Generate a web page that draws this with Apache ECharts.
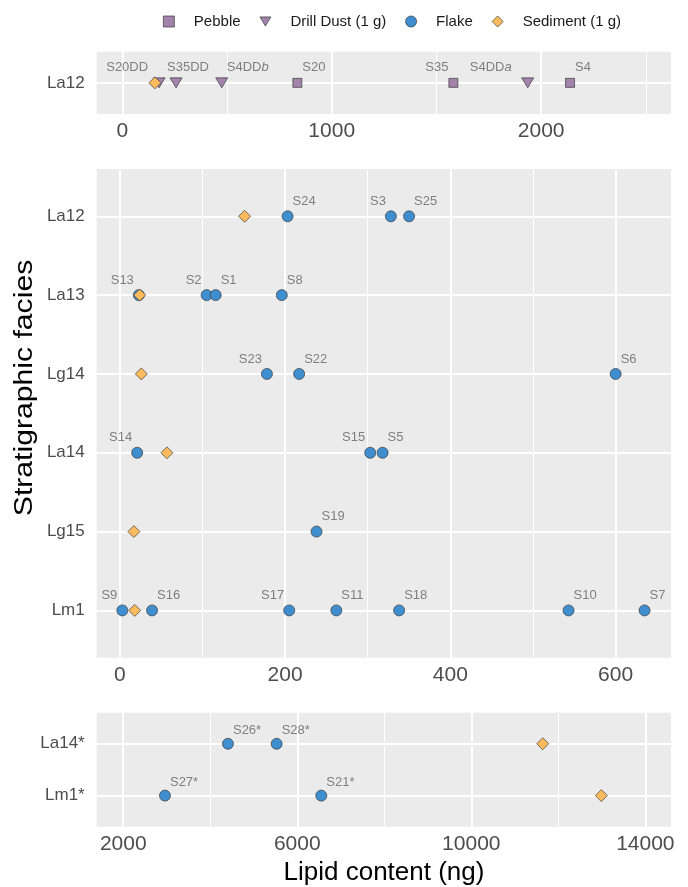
<!DOCTYPE html>
<html><head><meta charset="utf-8">
<script src="https://cdn.jsdelivr.net/npm/echarts@6/dist/echarts.min.js"></script>
<style>html,body{margin:0;padding:0;background:#fff}#c{width:688px;height:887px}</style>
</head><body><div id="c"></div>
<script>
// ---------------- data ----------------
const topCats = ['La12'];
const midCats = ['La12', 'La13', 'Lg14', 'La14', 'Lg15', 'Lm1'];
const botCats = ['La14*', 'Lm1*'];

const topPebbleNames = ['S20', 'S35', 'S4'];
const topPebbleCats = ['La12', 'La12', 'La12'];
const topPebbleValues = [836, 1581, 2138];

const topDrillNames = ['S20DD', 'S35DD', 'S4DDb', 'S4DDa'];
const topDrillCats = ['La12', 'La12', 'La12', 'La12'];
const topDrillValues = [176, 257, 475, 1936];

const topSedimentCats = ['La12'];
const topSedimentValues = [156];

const midFlakeNames = ['S24', 'S3', 'S25', 'S13', 'S2', 'S1', 'S8', 'S23', 'S22', 'S6', 'S14', 'S15', 'S5', 'S19', 'S9', 'S16', 'S17', 'S11', 'S18', 'S10', 'S7'];
const midFlakeCats = ['La12', 'La12', 'La12', 'La13', 'La13', 'La13', 'La13', 'Lg14', 'Lg14', 'Lg14', 'La14', 'La14', 'La14', 'Lg15', 'Lm1', 'Lm1', 'Lm1', 'Lm1', 'Lm1', 'Lm1', 'Lm1'];
const midFlakeValues = [203, 328, 350, 23, 105, 116, 196, 178, 217, 600, 21, 303, 318, 238, 3, 39, 205, 262, 338, 543, 635];

const midSedimentCats = ['La12', 'La13', 'Lg14', 'La14', 'Lg15', 'Lm1'];
const midSedimentValues = [151, 24, 26, 57, 17, 18];

const botFlakeNames = ['S26*', 'S28*', 'S27*', 'S21*'];
const botFlakeCats = ['La14*', 'La14*', 'Lm1*', 'Lm1*'];
const botFlakeValues = [4407, 5526, 2959, 6552];

const botSedimentCats = ['La14*', 'Lm1*'];
const botSedimentValues = [11641, 12989];

const topTickLabels = [0, 1000, 2000];
const midTickLabels = [0, 200, 400, 600];
const botTickLabels = [2000, 6000, 10000, 14000];

// ---------------- style / layout ----------------
const FONT = "'Liberation Sans', Arial, Helvetica, sans-serif";
const AXIS_TXT = '#4d4d4d';
const LABEL_TXT = '#7f7f7f';
const C_PURPLE = '#A383AC';
const C_BLUE = '#3E8ED0';
const C_ORANGE = '#FDBB5E';
const OUTLINE = '#3a3a3a';
const TRI_DOWN = 'path://M0,0L12,0L6,10Z';

const labelPlace = {
  'S20DD': ['right', -11], 'S35DD': ['left', -9], 'S4DDb': ['left', 5], 'S20': ['left', 5],
  'S35': ['right', -5], 'S4DDa': ['right', -16], 'S4': ['left', 5]
};
const leftSide = new Set(['S13', 'S2', 'S23', 'S3', 'S14', 'S15', 'S9', 'S17']);
function place(name) {
  if (labelPlace[name]) return labelPlace[name];
  return leftSide.has(name) ? ['right', -5] : ['left', 5];
}
function fmtName(n) {
  const m = /^(S\d+DD)([ab])$/.exec(n);
  if (m) return '{n|' + m[1] + '}{i|' + m[2] + '}';
  return '{n|' + n + '}';
}
function pts(names, cats, vals, catList, dy) {
  return vals.map((v, i) => {
    const item = { value: [v, catList.indexOf(cats[i])] };
    if (names) {
      item.name = names[i];
      const p = place(names[i]);
      item.label = { show: true, align: p[0], offset: [p[1], dy] };
    } else {
      item.label = { show: false };
    }
    return item;
  });
}
const labelBase = {
  show: true, position: 'inside', verticalAlign: 'middle', color: LABEL_TXT, fontSize: 13,
  fontFamily: FONT, textBorderWidth: 0,
  formatter: p => fmtName(p.name),
  rich: {
    n: { color: LABEL_TXT, fontSize: 13, fontFamily: FONT },
    i: { color: LABEL_TXT, fontSize: 13, fontFamily: FONT, fontStyle: 'italic' }
  }
};
function sty(color) { return { color: color, borderColor: OUTLINE, borderWidth: 0.7, opacity: 1 }; }

const GL = 96.7, GW = 574.3;
const grids = [
  { left: GL, top: 51.7, width: GW, height: 62.3 },
  { left: GL, top: 169, width: GW, height: 488.7 },
  { left: GL, top: 712.7, width: GW, height: 114 }
].map(g => Object.assign({ show: true, backgroundColor: '#EBEBEB', borderWidth: 0, containLabel: false, outerBoundsMode: 'none' }, g));

function near(v, list) { return list.some(t => Math.abs(t - v) < 1e-6); }
function xAxesFor(gi, min, max, splitThin, splitThick, ticks, cycle) {
  return [
    { type: 'value', gridIndex: gi, min: min, max: max, splitNumber: splitThin, position: 'top',
      axisLine: { show: false }, axisTick: { show: false }, axisLabel: { show: false },
      splitLine: { show: true, showMinLine: false, showMaxLine: false, lineStyle: { color: '#ffffff', width: 1 } } },
    { type: 'value', gridIndex: gi, min: min, max: max, splitNumber: splitThick, position: 'bottom',
      axisLine: { show: false }, axisTick: { show: false },
      axisLabel: { show: true, fontSize: 21, color: AXIS_TXT, fontFamily: FONT, margin: 7,
        showMinLabel: true, showMaxLabel: true,
        formatter: v => near(v, ticks) ? String(Math.round(v)) : '' },
      splitLine: { show: true, showMinLine: false, showMaxLine: false,
        lineStyle: { color: cycle ? ['#ffffff', 'rgba(255,255,255,0)'] : '#ffffff', width: 2 } } }
  ];
}
function yAxisFor(gi, cats) {
  return { type: 'value', gridIndex: gi, inverse: true, min: -0.6, max: cats.length - 0.4, splitNumber: cats.length,
    axisLine: { show: false }, axisTick: { show: false },
    axisLabel: { fontSize: 17, color: AXIS_TXT, fontFamily: FONT, margin: 12,
      formatter: v => { const r = Math.round(v); return Math.abs(v - r) < 1e-6 && cats[r] !== undefined ? cats[r] : ''; } },
    splitLine: { show: true, showMinLine: false, showMaxLine: false, lineStyle: { color: '#ffffff', width: 2 } } };
}

const xAxis = [].concat(
  xAxesFor(0, -122, 2620, 5, 3, topTickLabels, false),
  xAxesFor(1, -28, 667, 7, 3, midTickLabels, false),
  xAxesFor(2, 1390, 14590, 7, 7, botTickLabels, true)
);
const yAxis = [yAxisFor(0, topCats), yAxisFor(1, midCats), yAxisFor(2, botCats)];

function sc(name, xi, yi, symbol, size, color, data) {
  return {
    type: 'scatter', name: name, xAxisIndex: xi, yAxisIndex: yi, symbol: symbol, symbolSize: size,
    itemStyle: sty(color), label: labelBase, data: data, emphasis: { disabled: true }, silent: true
  };
}

const series = [
  sc('Pebble', 1, 0, 'rect', 9, C_PURPLE, pts(topPebbleNames, topPebbleCats, topPebbleValues, topCats, -15.5)),
  sc('Drill Dust (1 g)', 1, 0, TRI_DOWN, [12, 10], C_PURPLE, pts(topDrillNames, topDrillCats, topDrillValues, topCats, -15.5)),
  sc('Sediment (1 g)', 1, 0, 'diamond', 12, C_ORANGE, pts(null, topSedimentCats, topSedimentValues, topCats, 0)),
  sc('Flake', 3, 1, 'circle', 11, C_BLUE, pts(midFlakeNames, midFlakeCats, midFlakeValues, midCats, -15)),
  sc('Sediment (1 g)', 3, 1, 'diamond', 12, C_ORANGE, pts(null, midSedimentCats, midSedimentValues, midCats, 0)),
  sc('Flake', 5, 2, 'circle', 11, C_BLUE, pts(botFlakeNames, botFlakeCats, botFlakeValues, botCats, -13)),
  sc('Sediment (1 g)', 5, 2, 'diamond', 12, C_ORANGE, pts(null, botSedimentCats, botSedimentValues, botCats, 0))
];

const chart = echarts.init(document.getElementById('c'), null, { renderer: 'canvas' });
chart.setOption({
  animation: false,
  backgroundColor: '#ffffff',
  legend: {
    left: 158, top: 9, itemWidth: 11, itemHeight: 11, itemGap: 19, selectedMode: false,
    itemStyle: { borderWidth: 0.7, borderColor: OUTLINE },
    textStyle: { fontSize: 15, color: '#1a1a1a', fontFamily: FONT, padding: [0, 0, 0, 14.5] },
    data: [
      { name: 'Pebble', icon: 'rect' },
      { name: 'Drill Dust (1 g)', icon: TRI_DOWN },
      { name: 'Flake', icon: 'circle' },
      { name: 'Sediment (1 g)', icon: 'diamond' }
    ]
  },
  grid: grids,
  xAxis: xAxis,
  yAxis: yAxis,
  series: series,
  graphic: [
    { type: 'text', x: 25, y: 388, rotation: Math.PI / 2, scaleX: 1.16, silent: true,
      style: { text: 'Stratigraphic facies', fill: '#000', font: '26px ' + FONT, textAlign: 'center', textVerticalAlign: 'middle' } },
    { type: 'text', x: 384, y: 873, silent: true,
      style: { text: 'Lipid content (ng)', fill: '#000', font: '26px ' + FONT, textAlign: 'center', textVerticalAlign: 'middle' } }
  ]
});
</script></body></html>
